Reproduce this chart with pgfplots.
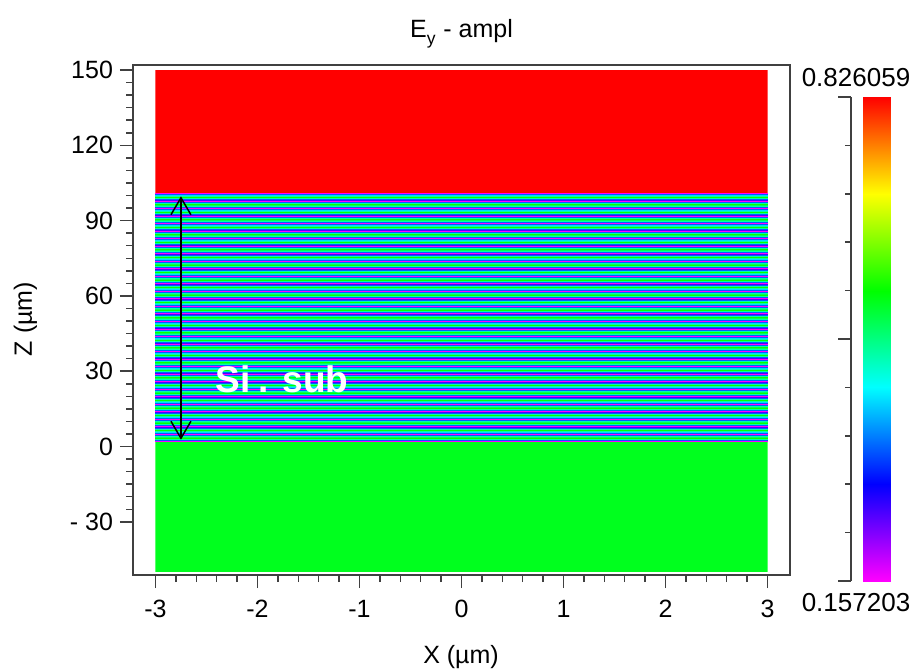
\documentclass[border=0pt]{standalone}
\usepackage{fontspec}
\setmainfont{Liberation Sans}
\usepackage{pgfplots}
\pgfplotsset{compat=1.18}
\usetikzlibrary{arrows.meta}

% magenta -> blue -> cyan -> green -> yellow -> red
\pgfplotsset{colormap={fdtd}{rgb255=(255,0,255) rgb255=(0,0,255) rgb255=(0,255,255) rgb255=(0,255,0) rgb255=(255,255,0) rgb255=(255,0,0)}}
\definecolor{framegray}{gray}{0.25}
\definecolor{subgreen}{RGB}{0,255,30}

\begin{document}
\begin{tikzpicture}
\useasboundingbox (0,0) rectangle (457.5pt,-335.5pt);

% field map
\begin{axis}[
  at={(66.5pt,-32.5pt)}, anchor=north west,
  width=328.5pt, height=255pt, scale only axis,
  xmin=-3.22, xmax=3.22, ymin=-51.2, ymax=152,
  axis line style={framegray, line width=0.75pt},
  tick style={framegray, line width=0.75pt},
  tick align=outside, tick pos=left,
  major tick length=6.5pt, minor tick length=3.5pt,
  xtick={-3,-2,-1,0,1,2,3}, xticklabels={-3,-2,-1,0,1,2,3}, minor x tick num=4,
  ytick={-30,0,30,60,90,120,150}, yticklabels={- 30,0,30,60,90,120,150}, minor y tick num=5,
  tick label style={font=\fontsize{12.5}{15}\selectfont},
  xticklabel style={yshift=-2.5pt},
  colormap name=fdtd, point meta min=0.157203, point meta max=0.826059,
]
% cladding above the substrate
\addplot[draw=none, fill=red] coordinates {(-3,101) (3,101) (3,150) (-3,150) (-3,101)};
% region below
\addplot[draw=none, fill=subgreen] coordinates {(-3,-50) (3,-50) (3,2) (-3,2) (-3,-50)};
% standing-wave layers in the substrate, one period per line
\addplot[surf, shader=interp, mesh/cols=2, point meta=explicit] coordinates {
(-3,2)[0.157] (3,2)[0.157] (-3,2.5)[0.34] (3,2.5)[0.34] (-3,3)[0.47] (3,3)[0.47] (-3,3.5)[0.56] (3,3.5)[0.56] (-3,4)[0.47] (3,4)[0.47] (-3,4.5)[0.34] (3,4.5)[0.34]
(-3,5)[0.157] (3,5)[0.157] (-3,5.5)[0.34] (3,5.5)[0.34] (-3,6)[0.47] (3,6)[0.47] (-3,6.5)[0.56] (3,6.5)[0.56] (-3,7)[0.47] (3,7)[0.47] (-3,7.5)[0.34] (3,7.5)[0.34]
(-3,8)[0.157] (3,8)[0.157] (-3,8.5)[0.34] (3,8.5)[0.34] (-3,9)[0.47] (3,9)[0.47] (-3,9.5)[0.56] (3,9.5)[0.56] (-3,10)[0.47] (3,10)[0.47] (-3,10.5)[0.34] (3,10.5)[0.34]
(-3,11)[0.157] (3,11)[0.157] (-3,11.5)[0.34] (3,11.5)[0.34] (-3,12)[0.47] (3,12)[0.47] (-3,12.5)[0.56] (3,12.5)[0.56] (-3,13)[0.47] (3,13)[0.47] (-3,13.5)[0.34] (3,13.5)[0.34]
(-3,14)[0.157] (3,14)[0.157] (-3,14.5)[0.34] (3,14.5)[0.34] (-3,15)[0.47] (3,15)[0.47] (-3,15.5)[0.56] (3,15.5)[0.56] (-3,16)[0.47] (3,16)[0.47] (-3,16.5)[0.34] (3,16.5)[0.34]
(-3,17)[0.157] (3,17)[0.157] (-3,17.5)[0.34] (3,17.5)[0.34] (-3,18)[0.47] (3,18)[0.47] (-3,18.5)[0.56] (3,18.5)[0.56] (-3,19)[0.47] (3,19)[0.47] (-3,19.5)[0.34] (3,19.5)[0.34]
(-3,20)[0.157] (3,20)[0.157] (-3,20.5)[0.34] (3,20.5)[0.34] (-3,21)[0.47] (3,21)[0.47] (-3,21.5)[0.56] (3,21.5)[0.56] (-3,22)[0.47] (3,22)[0.47] (-3,22.5)[0.34] (3,22.5)[0.34]
(-3,23)[0.157] (3,23)[0.157] (-3,23.5)[0.34] (3,23.5)[0.34] (-3,24)[0.47] (3,24)[0.47] (-3,24.5)[0.56] (3,24.5)[0.56] (-3,25)[0.47] (3,25)[0.47] (-3,25.5)[0.34] (3,25.5)[0.34]
(-3,26)[0.157] (3,26)[0.157] (-3,26.5)[0.34] (3,26.5)[0.34] (-3,27)[0.47] (3,27)[0.47] (-3,27.5)[0.56] (3,27.5)[0.56] (-3,28)[0.47] (3,28)[0.47] (-3,28.5)[0.34] (3,28.5)[0.34]
(-3,29)[0.157] (3,29)[0.157] (-3,29.5)[0.34] (3,29.5)[0.34] (-3,30)[0.47] (3,30)[0.47] (-3,30.5)[0.56] (3,30.5)[0.56] (-3,31)[0.47] (3,31)[0.47] (-3,31.5)[0.34] (3,31.5)[0.34]
(-3,32)[0.157] (3,32)[0.157] (-3,32.5)[0.34] (3,32.5)[0.34] (-3,33)[0.47] (3,33)[0.47] (-3,33.5)[0.56] (3,33.5)[0.56] (-3,34)[0.47] (3,34)[0.47] (-3,34.5)[0.34] (3,34.5)[0.34]
(-3,35)[0.157] (3,35)[0.157] (-3,35.5)[0.34] (3,35.5)[0.34] (-3,36)[0.47] (3,36)[0.47] (-3,36.5)[0.56] (3,36.5)[0.56] (-3,37)[0.47] (3,37)[0.47] (-3,37.5)[0.34] (3,37.5)[0.34]
(-3,38)[0.157] (3,38)[0.157] (-3,38.5)[0.34] (3,38.5)[0.34] (-3,39)[0.47] (3,39)[0.47] (-3,39.5)[0.56] (3,39.5)[0.56] (-3,40)[0.47] (3,40)[0.47] (-3,40.5)[0.34] (3,40.5)[0.34]
(-3,41)[0.157] (3,41)[0.157] (-3,41.5)[0.34] (3,41.5)[0.34] (-3,42)[0.47] (3,42)[0.47] (-3,42.5)[0.56] (3,42.5)[0.56] (-3,43)[0.47] (3,43)[0.47] (-3,43.5)[0.34] (3,43.5)[0.34]
(-3,44)[0.157] (3,44)[0.157] (-3,44.5)[0.34] (3,44.5)[0.34] (-3,45)[0.47] (3,45)[0.47] (-3,45.5)[0.56] (3,45.5)[0.56] (-3,46)[0.47] (3,46)[0.47] (-3,46.5)[0.34] (3,46.5)[0.34]
(-3,47)[0.157] (3,47)[0.157] (-3,47.5)[0.34] (3,47.5)[0.34] (-3,48)[0.47] (3,48)[0.47] (-3,48.5)[0.56] (3,48.5)[0.56] (-3,49)[0.47] (3,49)[0.47] (-3,49.5)[0.34] (3,49.5)[0.34]
(-3,50)[0.157] (3,50)[0.157] (-3,50.5)[0.34] (3,50.5)[0.34] (-3,51)[0.47] (3,51)[0.47] (-3,51.5)[0.56] (3,51.5)[0.56] (-3,52)[0.47] (3,52)[0.47] (-3,52.5)[0.34] (3,52.5)[0.34]
(-3,53)[0.157] (3,53)[0.157] (-3,53.5)[0.34] (3,53.5)[0.34] (-3,54)[0.47] (3,54)[0.47] (-3,54.5)[0.56] (3,54.5)[0.56] (-3,55)[0.47] (3,55)[0.47] (-3,55.5)[0.34] (3,55.5)[0.34]
(-3,56)[0.157] (3,56)[0.157] (-3,56.5)[0.34] (3,56.5)[0.34] (-3,57)[0.47] (3,57)[0.47] (-3,57.5)[0.56] (3,57.5)[0.56] (-3,58)[0.47] (3,58)[0.47] (-3,58.5)[0.34] (3,58.5)[0.34]
(-3,59)[0.157] (3,59)[0.157] (-3,59.5)[0.34] (3,59.5)[0.34] (-3,60)[0.47] (3,60)[0.47] (-3,60.5)[0.56] (3,60.5)[0.56] (-3,61)[0.47] (3,61)[0.47] (-3,61.5)[0.34] (3,61.5)[0.34]
(-3,62)[0.157] (3,62)[0.157] (-3,62.5)[0.34] (3,62.5)[0.34] (-3,63)[0.47] (3,63)[0.47] (-3,63.5)[0.56] (3,63.5)[0.56] (-3,64)[0.47] (3,64)[0.47] (-3,64.5)[0.34] (3,64.5)[0.34]
(-3,65)[0.157] (3,65)[0.157] (-3,65.5)[0.34] (3,65.5)[0.34] (-3,66)[0.47] (3,66)[0.47] (-3,66.5)[0.56] (3,66.5)[0.56] (-3,67)[0.47] (3,67)[0.47] (-3,67.5)[0.34] (3,67.5)[0.34]
(-3,68)[0.157] (3,68)[0.157] (-3,68.5)[0.34] (3,68.5)[0.34] (-3,69)[0.47] (3,69)[0.47] (-3,69.5)[0.56] (3,69.5)[0.56] (-3,70)[0.47] (3,70)[0.47] (-3,70.5)[0.34] (3,70.5)[0.34]
(-3,71)[0.157] (3,71)[0.157] (-3,71.5)[0.34] (3,71.5)[0.34] (-3,72)[0.47] (3,72)[0.47] (-3,72.5)[0.56] (3,72.5)[0.56] (-3,73)[0.47] (3,73)[0.47] (-3,73.5)[0.34] (3,73.5)[0.34]
(-3,74)[0.157] (3,74)[0.157] (-3,74.5)[0.34] (3,74.5)[0.34] (-3,75)[0.47] (3,75)[0.47] (-3,75.5)[0.56] (3,75.5)[0.56] (-3,76)[0.47] (3,76)[0.47] (-3,76.5)[0.34] (3,76.5)[0.34]
(-3,77)[0.157] (3,77)[0.157] (-3,77.5)[0.34] (3,77.5)[0.34] (-3,78)[0.47] (3,78)[0.47] (-3,78.5)[0.56] (3,78.5)[0.56] (-3,79)[0.47] (3,79)[0.47] (-3,79.5)[0.34] (3,79.5)[0.34]
(-3,80)[0.157] (3,80)[0.157] (-3,80.5)[0.34] (3,80.5)[0.34] (-3,81)[0.47] (3,81)[0.47] (-3,81.5)[0.56] (3,81.5)[0.56] (-3,82)[0.47] (3,82)[0.47] (-3,82.5)[0.34] (3,82.5)[0.34]
(-3,83)[0.157] (3,83)[0.157] (-3,83.5)[0.34] (3,83.5)[0.34] (-3,84)[0.47] (3,84)[0.47] (-3,84.5)[0.56] (3,84.5)[0.56] (-3,85)[0.47] (3,85)[0.47] (-3,85.5)[0.34] (3,85.5)[0.34]
(-3,86)[0.157] (3,86)[0.157] (-3,86.5)[0.34] (3,86.5)[0.34] (-3,87)[0.47] (3,87)[0.47] (-3,87.5)[0.56] (3,87.5)[0.56] (-3,88)[0.47] (3,88)[0.47] (-3,88.5)[0.34] (3,88.5)[0.34]
(-3,89)[0.157] (3,89)[0.157] (-3,89.5)[0.34] (3,89.5)[0.34] (-3,90)[0.47] (3,90)[0.47] (-3,90.5)[0.56] (3,90.5)[0.56] (-3,91)[0.47] (3,91)[0.47] (-3,91.5)[0.34] (3,91.5)[0.34]
(-3,92)[0.157] (3,92)[0.157] (-3,92.5)[0.34] (3,92.5)[0.34] (-3,93)[0.47] (3,93)[0.47] (-3,93.5)[0.56] (3,93.5)[0.56] (-3,94)[0.47] (3,94)[0.47] (-3,94.5)[0.34] (3,94.5)[0.34]
(-3,95)[0.157] (3,95)[0.157] (-3,95.5)[0.34] (3,95.5)[0.34] (-3,96)[0.47] (3,96)[0.47] (-3,96.5)[0.56] (3,96.5)[0.56] (-3,97)[0.47] (3,97)[0.47] (-3,97.5)[0.34] (3,97.5)[0.34]
(-3,98)[0.157] (3,98)[0.157] (-3,98.5)[0.34] (3,98.5)[0.34] (-3,99)[0.47] (3,99)[0.47] (-3,99.5)[0.56] (3,99.5)[0.56] (-3,100)[0.47] (3,100)[0.47] (-3,100.5)[0.34] (3,100.5)[0.34]
(-3,101)[0.157] (3,101)[0.157]
};
% substrate thickness marker
\addplot[black, line width=0.75pt, {Straight Barb[length=8.5pt, width=10pt]}-{Straight Barb[length=8.5pt, width=10pt]}]
  coordinates {(-2.75,2.7) (-2.75,99.7)};
\node[white, font=\bfseries\fontsize{18.5}{22}\selectfont] at (axis cs:-1.76,26.6) {Si\kern4pt.\kern7pt sub};
\end{axis}

% colour scale
\begin{axis}[
  at={(425.5pt,-48.5pt)}, anchor=north west,
  width=19.5pt, height=242pt, scale only axis,
  xmin=0, xmax=1, ymin=0.157203, ymax=0.826059,
  hide x axis, axis y line*=left,
  axis line style={framegray, line width=0.75pt},
  tick style={framegray, line width=0.75pt},
  tick align=outside,
  major tick length=6.5pt, minor tick length=3pt,
  ytick={0.157203,0.491631,0.826059}, yticklabels={,,},
  minor ytick={0.224089,0.290974,0.357860,0.424745,0.558517,0.625402,0.692288,0.759173},
  colormap name=fdtd, point meta min=0.157203, point meta max=0.826059,
]
\addplot[surf, shader=interp, mesh/cols=2, point meta=y] coordinates {
(0.3077,0.157203) (1,0.157203)
(0.3077,0.290974) (1,0.290974)
(0.3077,0.424745) (1,0.424745)
(0.3077,0.558517) (1,0.558517)
(0.3077,0.692288) (1,0.692288)
(0.3077,0.826059) (1,0.826059)
};
\end{axis}

\node[font=\fontsize{13}{15}\selectfont] at (428pt,-39pt) {0.826059};
\node[font=\fontsize{13}{15}\selectfont] at (428pt,-301.5pt) {0.157203};
\node[anchor=base, font=\fontsize{12.5}{15}\selectfont] at (230.75pt,-18.5pt) {E\textsubscript{\raisebox{-0.4ex}{y}} - ampl};
\node[anchor=base, font=\fontsize{12.5}{15}\selectfont] at (230.5pt,-331.5pt) {X (µm)};
\node[anchor=base, rotate=90, font=\fontsize{12.5}{15}\selectfont] at (16pt,-159.5pt) {Z (µm)};
\end{tikzpicture}
\end{document}
